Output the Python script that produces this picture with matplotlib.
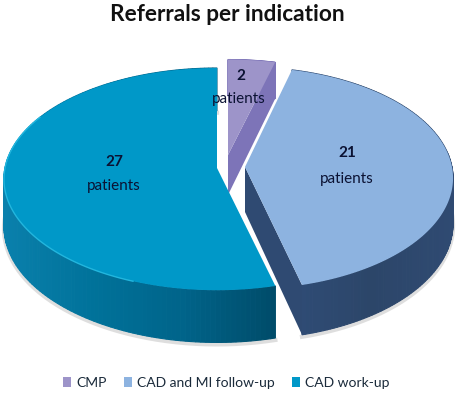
import matplotlib
matplotlib.use('Agg')
import matplotlib.pyplot as plt
import numpy as np
from matplotlib.colors import LinearSegmentedColormap
from matplotlib.patches import Patch, Polygon

plt.rcParams['font.family'] = ['Lato', 'DejaVu Sans']

categories = ['CMP', 'CAD and MI follow-up', 'CAD work-up']
patients = [2, 21, 27]
top_colors = ['#9D94C9', '#8DB3E0', '#0098C8']
legend_colors = ['#9D94C9', '#8DB3E0', '#0098C8']

# apex position, radii, depth of every slice (picture pixels)
apex = [(228, 155), (245, 167), (217, 168)]
radius = [(208, 105), (207, 110), (212, 110)]
depth = [40, 45, 47]
TILT = 0.1

wall_maps = [
    LinearSegmentedColormap.from_list('w0', ['#7D74B8', '#7D74B8']),
    LinearSegmentedColormap.from_list('w1', ['#2F4C76', '#2C4669', '#2F4A72']),
    LinearSegmentedColormap.from_list('w2', ['#0A80AC', '#00729A', '#00648A', '#004C6A']),
]


def project(i, theta, r=1.0):
    # theta is clockwise from 12 o'clock, far side of the pie is drawn smaller
    u = r * np.sin(theta)
    v = r * np.cos(theta)
    w = 1 + TILT * v
    x = apex[i][0] + radius[i][0] * u / w
    y = apex[i][1] - radius[i][1] * v / w
    return x, y, w


fig = plt.figure(figsize=(4.62, 3.94), dpi=100)
ax = fig.add_axes([0, 0, 1, 1])
ax.set_xlim(0, 462)
ax.set_ylim(394, 0)
ax.axis('off')

edges = np.radians(np.cumsum([0] + patients) / sum(patients) * 360)

for i in range(len(patients)):
    th = np.linspace(edges[i], edges[i + 1], 160)
    x, y, w = project(i, th)
    ax0, ay0 = apex[i]
    d = depth[i] / w

    # soft shadow under the rim
    if i > 0:
        ax.plot(x, y + d + 2, color='#c9c9c9', lw=3, alpha=0.6, zorder=i * 3)

    # outer wall, small quads so the shading runs along it
    span = max(x.max() - x.min(), 1)
    for j in range(len(th) - 1):
        quad = [(x[j], y[j]), (x[j + 1], y[j + 1]),
                (x[j + 1], y[j + 1] + d[j + 1]), (x[j], y[j] + d[j])]
        c = wall_maps[i]((x[j] - x.min()) / span)
        ax.add_patch(Polygon(quad, closed=True, fc=c, ec=c, lw=0.8, zorder=i * 3 + 1))

    # cut faces that can be seen from the front
    if i == 0:
        k = -1
        face = [(ax0, ay0), (x[k], y[k]), (x[k], y[k] + d[k]), (ax0, ay0 + depth[i])]
        ax.add_patch(Polygon(face, closed=True, fc='#7D74B8', ec='none', zorder=i * 3 + 1))
    if i == 1:
        k = -1
        face = [(ax0, ay0), (x[k], y[k]), (x[k], y[k] + d[k]), (ax0, ay0 + depth[i])]
        ax.add_patch(Polygon(face, closed=True, fc='#2F4A72', ec='none', zorder=i * 3 + 1))

    # top surface
    top = np.column_stack([np.r_[ax0, x], np.r_[ay0, y]])
    ax.add_patch(Polygon(top, closed=True, fc=top_colors[i], ec='none', zorder=i * 3 + 2))

    # light edge on the blue rim
    if i == 2:
        front = (th > np.radians(200)) & (th < np.radians(300))
        ax.plot(x[front], y[front], color='#22B6DE', lw=1, zorder=i * 3 + 2)

txt = '#0B1233'
ax.text(227, 14, 'Referrals per indication', ha='center', va='center',
        fontsize=16.3, fontweight='bold', color='#111111', zorder=20)
ax.text(241, 76, str(patients[0]), ha='center', va='center', fontsize=11, fontweight='bold', color=txt, zorder=20)
ax.text(239, 99, 'patients', ha='center', va='center', fontsize=11, color=txt, zorder=20)
ax.text(347, 153, str(patients[1]), ha='center', va='center', fontsize=11, fontweight='bold', color=txt, zorder=20)
ax.text(347, 179, 'patients', ha='center', va='center', fontsize=11, color=txt, zorder=20)
ax.text(114, 162, str(patients[2]), ha='center', va='center', fontsize=11, fontweight='bold', color=txt, zorder=20)
ax.text(114, 186, 'patients', ha='center', va='center', fontsize=11, color=txt, zorder=20)

handles = [Patch(fc=c, ec='none') for c in legend_colors]
ax.legend(handles, categories, ncol=3, loc='center', bbox_to_anchor=(0.49, 0.028), frameon=False,
          fontsize=10, handlelength=0.6, handleheight=0.7, handletextpad=0.35, columnspacing=1.25,
          labelcolor='#1A2A3A')

fig.savefig('out.png', dpi=100)
